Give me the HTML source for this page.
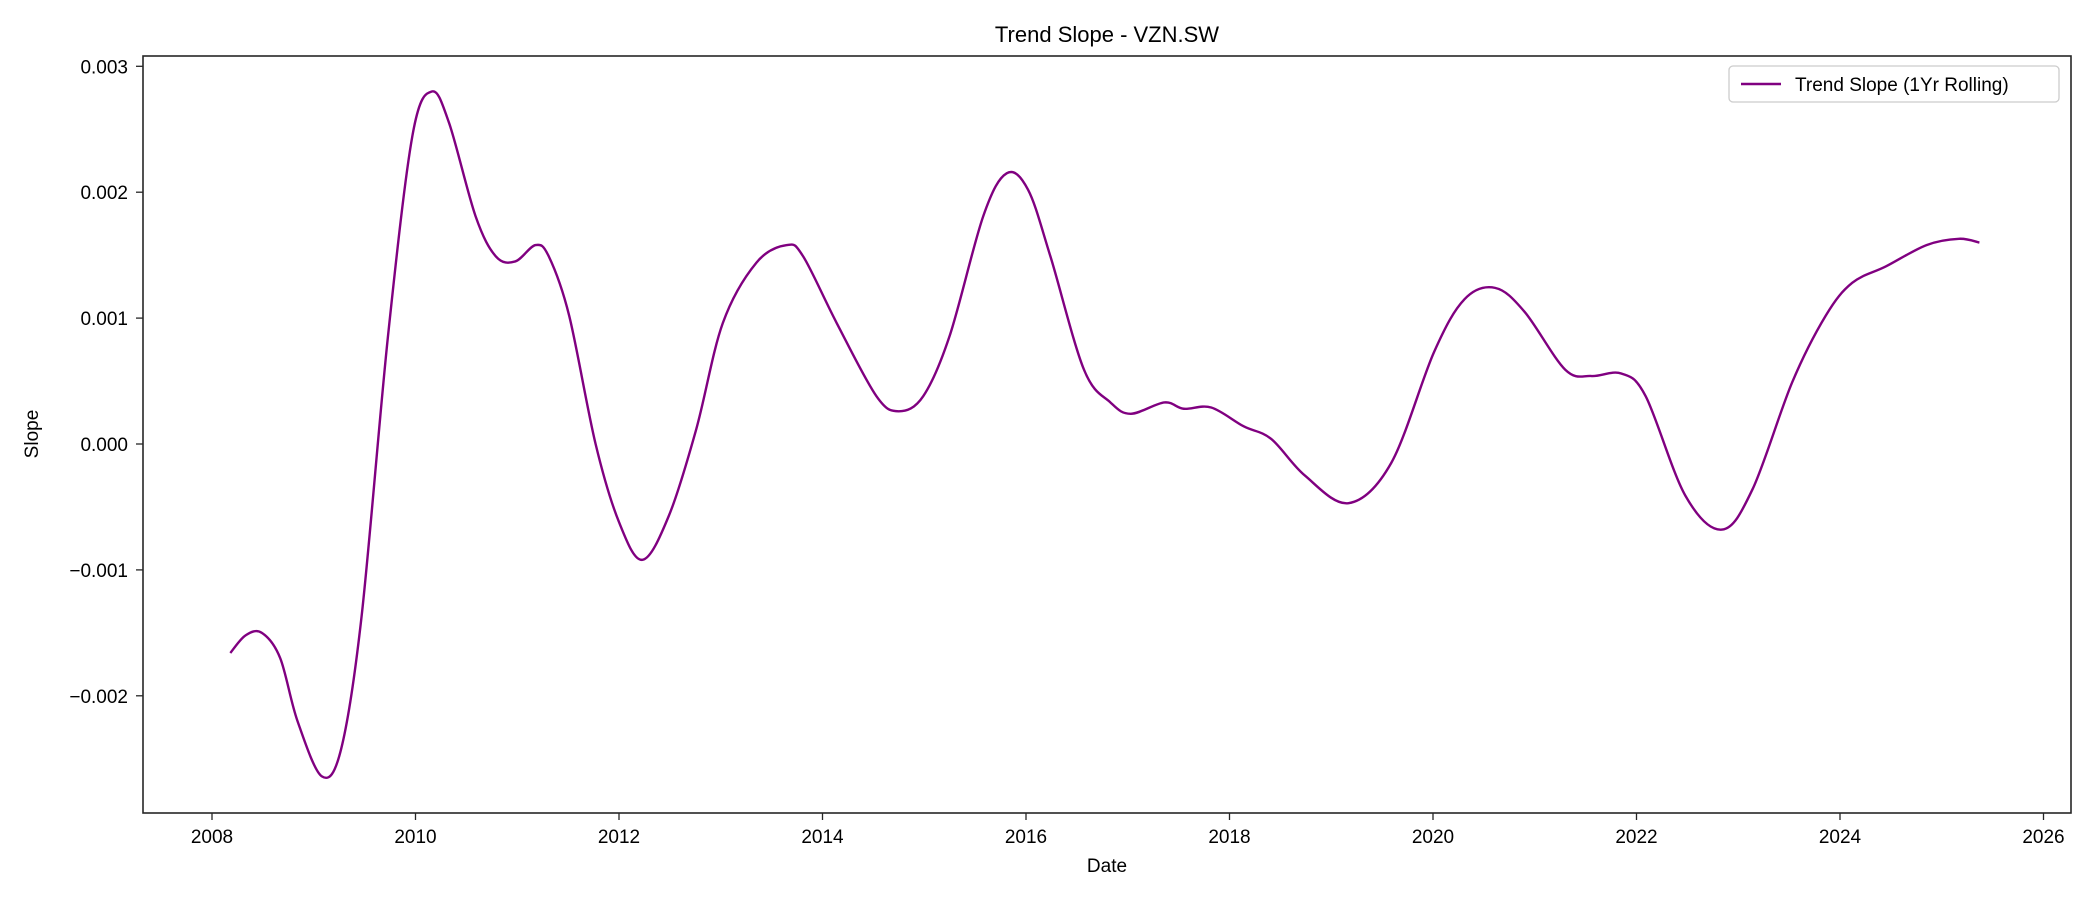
<!DOCTYPE html>
<html><head><meta charset="utf-8"><style>
html,body{margin:0;padding:0;background:#fff;}
svg{display:block;font-family:"Liberation Sans","DejaVu Sans",sans-serif;}
</style></head><body>
<svg id="chart" width="2100" height="900">
<text x="1107" y="42" font-size="22" text-anchor="middle">Trend Slope - VZN.SW</text>
<g id="axes"></g>
<path id="line" fill="none" stroke="#800080" stroke-width="2.4"></path>
<rect x="143" y="56" width="1928" height="757" fill="none" stroke="#262626" stroke-width="1.6"/>
<g>
<rect x="1729" y="66" width="330" height="36" rx="4" fill="#fff" stroke="#ccc" stroke-width="1.3"/>
<line x1="1741" y1="84" x2="1781" y2="84" stroke="#800080" stroke-width="2.4"/>
<text x="1795" y="91" font-size="19">Trend Slope (1Yr Rolling)</text>
</g>
<text x="1107" y="872" font-size="19" text-anchor="middle">Date</text>
<text x="38" y="434" font-size="19" text-anchor="middle" transform="rotate(-90 38 434)">Slope</text>
</svg>
<script>
const years = [2008.18,2008.33,2008.49,2008.67,2008.84,2009.08,2009.27,2009.47,2009.73,2009.97,2010.16,2010.33,2010.59,2010.79,2010.98,2011.18,2011.31,2011.51,2011.77,2012.0,2012.23,2012.49,2012.76,2013.02,2013.35,2013.65,2013.81,2014.14,2014.53,2014.75,2014.99,2015.25,2015.58,2015.81,2016.02,2016.24,2016.57,2016.83,2017.03,2017.36,2017.55,2017.82,2018.14,2018.41,2018.74,2019.17,2019.59,2020.01,2020.31,2020.61,2020.9,2021.3,2021.56,2021.85,2022.09,2022.48,2022.84,2023.14,2023.53,2023.86,2024.12,2024.45,2024.85,2025.17,2025.37];
const slopes = [-0.00166,-0.00152,-0.0015,-0.0017,-0.0022,-0.00264,-0.00242,-0.00137,0.00086,0.00245,0.0028,0.00255,0.00181,0.00149,0.00145,0.00158,0.00149,0.00102,0.0,-0.00062,-0.00092,-0.00057,0.00012,0.00096,0.00144,0.00158,0.00149,0.00096,0.00038,0.00026,0.00038,0.00086,0.00181,0.00215,0.00202,0.00149,0.00059,0.00033,0.00024,0.00033,0.00028,0.00029,0.00014,0.00004,-0.00025,-0.00047,-0.00015,0.00073,0.00115,0.00124,0.00105,0.00059,0.00054,0.00056,0.00038,-0.00041,-0.00068,-0.00036,0.00049,0.00102,0.00128,0.00141,0.00158,0.00163,0.0016];
const xTicks = [2008,2010,2012,2014,2016,2018,2020,2022,2024,2026];
const yTicks = [-0.002,-0.001,0,0.001,0.002,0.003];
const yTickLabels = ["\u22120.002","\u22120.001","0.000","0.001","0.002","0.003"];

function xs(y){return 212 + (y-2008)*101.75;}
function ys(v){return 444 - v*125900;}
const NS="http://www.w3.org/2000/svg";
const axes=document.getElementById('axes');
xTicks.forEach(t=>{
  const l=document.createElementNS(NS,'line');
  l.setAttribute('x1',xs(t));l.setAttribute('x2',xs(t));l.setAttribute('y1',813);l.setAttribute('y2',820);
  l.setAttribute('stroke','#262626');l.setAttribute('stroke-width','1.3');
  
  
  axes.appendChild(l);
  const tx=document.createElementNS(NS,'text');
  tx.setAttribute('x',xs(t));tx.setAttribute('y',843);tx.setAttribute('font-size','19');tx.setAttribute('text-anchor','middle');
  tx.textContent=t;
  
  
  axes.appendChild(tx);
});
yTicks.forEach((t,i)=>{
  const l=document.createElementNS(NS,'line');
  l.setAttribute('x1',136);l.setAttribute('x2',143);l.setAttribute('y1',ys(t));l.setAttribute('y2',ys(t));
  l.setAttribute('stroke','#262626');l.setAttribute('stroke-width','1.3');
  
  
  axes.appendChild(l);
  const tx=document.createElementNS(NS,'text');
  tx.setAttribute('x',128);tx.setAttribute('y',ys(t)+7);tx.setAttribute('font-size','19');tx.setAttribute('text-anchor','end');
  tx.textContent=yTickLabels[i];
  
  
  axes.appendChild(tx);
});
const P=years.map((y,i)=>[xs(y),ys(slopes[i])]);
let d='M'+P[0][0]+','+P[0][1];
for(let i=0;i<P.length-1;i++){
  const p0=P[Math.max(i-1,0)],p1=P[i],p2=P[i+1],p3=P[Math.min(i+2,P.length-1)];
  const c1=[p1[0]+(p2[0]-p0[0])/6,p1[1]+(p2[1]-p0[1])/6];
  const c2=[p2[0]-(p3[0]-p1[0])/6,p2[1]-(p3[1]-p1[1])/6];
  d+=' C'+c1[0]+','+c1[1]+' '+c2[0]+','+c2[1]+' '+p2[0]+','+p2[1];
}
document.getElementById('line').setAttribute('d',d);
</script>
</body></html>
